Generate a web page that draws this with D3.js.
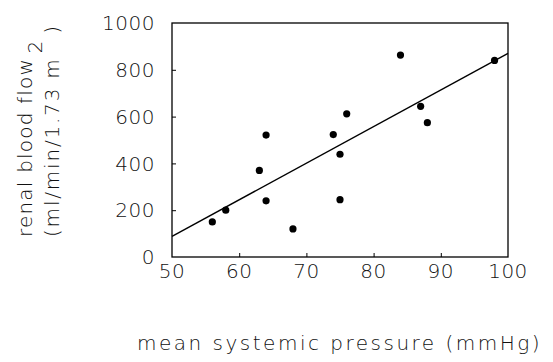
<!DOCTYPE html>
<html>
<head>
  <script src="https://d3js.org/d3.v7.min.js"></script>
  <style>
    body { margin: 0; background: #fff; }
    svg text { font-family: "DejaVu Sans", sans-serif; font-weight: 200; fill: #111; }
    .tick-label { font-size: 20px; letter-spacing: 0.5px; }
    .axis-title { font-size: 20px; }
  </style>
</head>
<body>
  <div id="chart"></div>
  <script>
    // pressure (mmHg) vs renal blood flow (ml/min/1.73 m2)
    const pressure = [56, 58, 63, 64, 64, 68, 74, 75, 75, 76, 84, 87, 88, 98];
    const flow     = [150, 200, 370, 521, 240, 120, 523, 439, 245, 612, 863, 644, 574, 840];
    // regression line end points
    const fitX = [50, 100];
    const fitY = [88, 870];
    const xTicks = [50, 60, 70, 80, 90, 100];
    const yTicks = [0, 200, 400, 600, 800, 1000];

    const width = 553, height = 362;
    const margin = { top: 23, right: 45, bottom: 105, left: 172 };

    const svg = d3.select("#chart").append("svg")
      .attr("width", width)
      .attr("height", height);

    const x = d3.scaleLinear().domain([50, 100]).range([margin.left, width - margin.right]);
    const y = d3.scaleLinear().domain([0, 1000]).range([height - margin.bottom, margin.top]);

    // frame
    svg.append("rect")
      .attr("x", x(50)).attr("y", y(1000))
      .attr("width", x(100) - x(50)).attr("height", y(0) - y(1000))
      .attr("fill", "none").attr("stroke", "#000").attr("stroke-width", 1.3);

    // inward ticks
    const xAxis = d3.axisBottom(x).tickValues(xTicks.slice(1, -1)).tickSize(-4).tickFormat("");
    svg.append("g").attr("transform", `translate(0,${y(0)})`).call(xAxis)
      .call(g => g.select(".domain").remove());
    const yAxis = d3.axisLeft(y).tickValues(yTicks.slice(1, -1)).tickSize(-4).tickFormat("");
    svg.append("g").attr("transform", `translate(${x(50)},0)`).call(yAxis)
      .call(g => g.select(".domain").remove());

    // tick labels
    svg.selectAll(".xl").data(xTicks).join("text")
      .attr("class", "tick-label")
      .attr("x", d => x(d)).attr("y", y(0) + 21)
      .attr("text-anchor", "middle")
      .text(d => d);
    svg.selectAll(".yl").data(yTicks).join("text")
      .attr("class", "tick-label")
      .attr("x", x(50) - 17).attr("y", d => y(d))
      .attr("dy", "0.36em")
      .attr("text-anchor", "end")
      .text(d => d);

    // fit line
    const pts = fitX.map((v, i) => [v, fitY[i]]);
    svg.append("path")
      .attr("d", d3.line().x(d => x(d[0])).y(d => y(d[1]))(pts))
      .attr("fill", "none").attr("stroke", "#000").attr("stroke-width", 1.4);

    // points
    svg.selectAll(".dot").data(pressure).join("circle")
      .attr("cx", d => x(d))
      .attr("cy", (d, i) => y(flow[i]))
      .attr("r", 3.6)
      .attr("fill", "#000");

    // axis titles
    svg.append("text")
      .attr("class", "axis-title")
      .attr("x", 137).attr("y", 350)
      .style("letter-spacing", "2.5px")
      .text("mean systemic pressure (mmHg)");

    const yt = svg.append("g").attr("transform", "translate(0,237) rotate(-90)");
    yt.append("text")
      .attr("class", "axis-title")
      .attr("x", 0).attr("y", 32)
      .style("letter-spacing", "1.2px")
      .text("renal blood flow");
    const l2 = yt.append("text")
      .attr("class", "axis-title")
      .attr("x", 0).attr("y", 59)
      .style("letter-spacing", "1.8px");
    l2.append("tspan").text("(ml/min/1.73 m");
    l2.append("tspan").attr("dx", 4).attr("dy", -17).text("2");
    l2.append("tspan").attr("dx", 5).attr("dy", 17).text(")");
  </script>
</body>
</html>
